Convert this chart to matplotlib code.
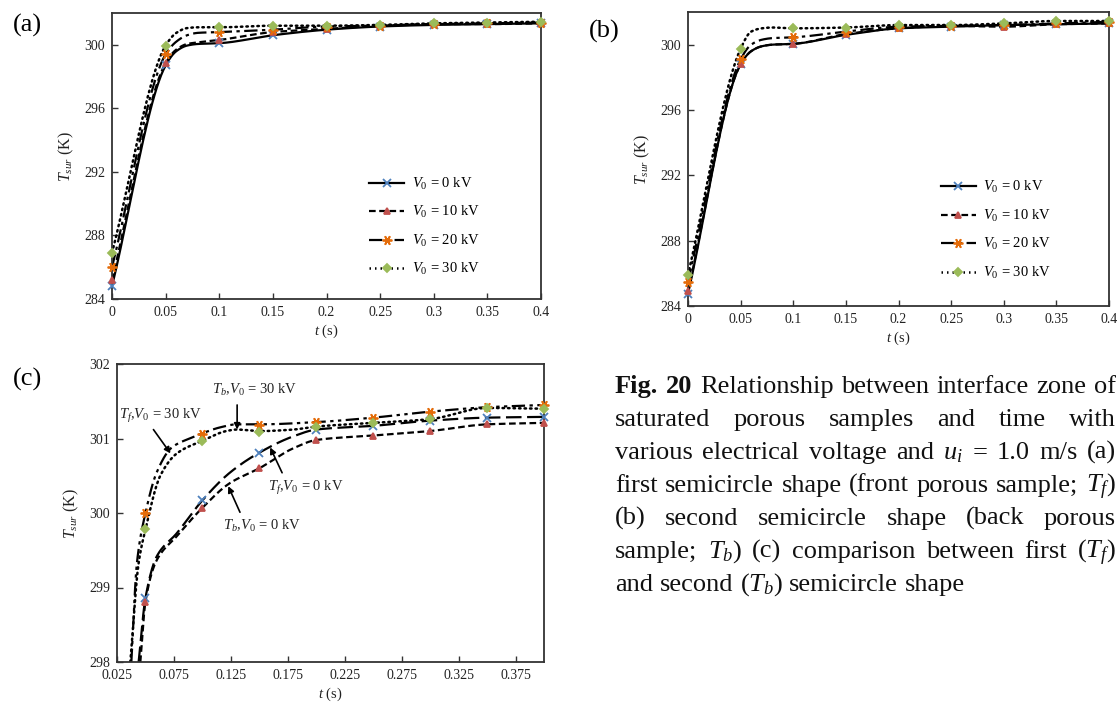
import numpy as np
import matplotlib
matplotlib.use("Agg")
import matplotlib.pyplot as plt

plt.rcParams['font.family'] = 'Liberation Serif'
plt.rcParams['mathtext.fontset'] = 'custom'
plt.rcParams['mathtext.rm'] = 'Liberation Serif'
plt.rcParams['mathtext.it'] = 'Liberation Serif:italic'
plt.rcParams['mathtext.bf'] = 'Liberation Serif:bold'

# time of the marked points (s)
t = [0, 0.05, 0.1, 0.15, 0.2, 0.25, 0.3, 0.35, 0.4]
# extra points read along the knee of the curves in (a) and (b)
t_knee = [0.06, 0.07, 0.08]

# (a) front porous sample, T_sur (K)
a_v0 = [284.8, 298.7, 300.1, 300.6, 300.95, 301.15, 301.25, 301.3, 301.35]
a_v10 = [285.2, 298.85, 300.3, 300.8, 301.0, 301.2, 301.3, 301.3, 301.35]
a_v20 = [286.0, 299.4, 300.8, 300.95, 301.15, 301.2, 301.3, 301.35, 301.4]
a_v30 = [286.9, 299.95, 301.1, 301.2, 301.2, 301.25, 301.35, 301.4, 301.45]
a_knee = [[299.6, 299.95, 300.05], [299.7, 300.05, 300.15],
          [300.2, 300.6, 300.75], [300.75, 301.05, 301.1]]

# (b) back porous sample
b_v0 = [284.75, 298.8, 300.05, 300.6, 301.0, 301.1, 301.2, 301.25, 301.3]
b_v10 = [284.9, 298.8, 300.05, 300.65, 301.0, 301.15, 301.1, 301.25, 301.3]
b_v20 = [285.5, 299.1, 300.45, 300.8, 301.1, 301.15, 301.2, 301.3, 301.4]
b_v30 = [285.9, 299.75, 301.0, 301.05, 301.2, 301.2, 301.3, 301.45, 301.45]
b_knee = [[299.6, 299.9, 300.0], [299.6, 299.9, 300.0],
          [300.0, 300.3, 300.4], [300.8, 301.0, 301.05]]

# (c) comparison: marked points from 0.05 s on
t_c = [0.05, 0.1, 0.15, 0.2, 0.25, 0.3, 0.35, 0.4]
c_tf0 = [298.86, 300.17, 300.81, 301.12, 301.17, 301.24, 301.28, 301.29]
c_tb0 = [298.81, 300.07, 300.6, 300.98, 301.04, 301.1, 301.19, 301.21]
c_tf30 = [300.0, 301.06, 301.18, 301.22, 301.28, 301.36, 301.42, 301.45]
c_tb30 = [299.78, 300.97, 301.09, 301.16, 301.21, 301.26, 301.41, 301.4]
# (c) curves
c_tf0_x = [0.044, 0.05, 0.06, 0.0776, 0.1, 0.124, 0.15, 0.18, 0.2, 0.25, 0.3, 0.35, 0.4]
c_tf0_y = [298.0, 298.86, 299.42, 299.73, 300.17, 300.54, 300.81, 301.03, 301.12, 301.17, 301.24, 301.28, 301.29]
c_tb0_x = [0.0455, 0.05, 0.06, 0.0776, 0.1, 0.124, 0.15, 0.18, 0.2, 0.25, 0.3, 0.35, 0.4]
c_tb0_y = [298.0, 298.81, 299.37, 299.69, 300.07, 300.4, 300.6, 300.87, 300.98, 301.04, 301.1, 301.19, 301.21]
c_tf30_x = [0.0376, 0.0425, 0.05, 0.06, 0.0732, 0.092, 0.1, 0.1157, 0.13, 0.15, 0.2, 0.25, 0.3, 0.35, 0.4]
c_tf30_y = [298.0, 299.33, 300.0, 300.55, 300.88, 301.02, 301.07, 301.15, 301.19, 301.19, 301.22, 301.28, 301.36, 301.42, 301.45]
c_tb30_x = [0.0367, 0.044, 0.05, 0.063, 0.0776, 0.1, 0.121, 0.13, 0.151, 0.18, 0.2, 0.25, 0.3, 0.35, 0.4]
c_tb30_y = [298.0, 299.33, 299.78, 300.5, 300.8, 300.97, 301.1, 301.12, 301.1, 301.12, 301.16, 301.21, 301.26, 301.41, 301.4]

legend_labels = [r'$V_0$ = 0 kV', r'$V_0$ = 10 kV', r'$V_0$ = 20 kV', r'$V_0$ = 30 kV']
ab_xticklabels = ['0', '0.05', '0.1', '0.15', '0.2', '0.25', '0.3', '0.35', '0.4']
ab_yticks = [284, 288, 292, 296, 300]
c_xticks = [0.025, 0.075, 0.125, 0.175, 0.225, 0.275, 0.325, 0.375]
c_yticks = [298, 299, 300, 301, 302]

blue, red, orange, green = '#4F81BD', '#C0504D', '#E46C0A', '#9BBB59'
asterisk = (6, 2, 90)

styles = {
    'solid': dict(ls='-', marker='x', mc=blue, ms=6),
    'longdash': dict(ls=(0, (7, 2.5)), marker='x', mc=blue, ms=6),
    'dash': dict(ls=(0, (3, 1.6)), marker='^', mc=red, ms=4),
    'dashdot': dict(ls=(0, (6, 2, 1.5, 2)), marker=asterisk, mc=orange, ms=7),
    'dashdotdot': dict(ls=(0, (6, 2, 1.5, 2, 1.5, 2)), marker=asterisk, mc=orange, ms=7),
    'dot': dict(ls=(0, (0.6, 1.6)), marker='D', mc=green, ms=4.5),
}


def monotone(x, y, n=25):
    # monotone cubic drawing of the line through the read points (no overshoot)
    x = np.asarray(x, float)
    y = np.asarray(y, float)
    h = np.diff(x)
    d = np.diff(y) / h
    m = np.zeros_like(y)
    m[0], m[-1] = d[0], d[-1]
    for k in range(1, len(x) - 1):
        if d[k - 1] * d[k] > 0:
            w1, w2 = 2 * h[k] + h[k - 1], h[k] + 2 * h[k - 1]
            m[k] = (w1 + w2) / (w1 / d[k - 1] + w2 / d[k])
    s = np.linspace(0, 1, n)
    h00, h10 = 2 * s ** 3 - 3 * s ** 2 + 1, s ** 3 - 2 * s ** 2 + s
    h01, h11 = -2 * s ** 3 + 3 * s ** 2, s ** 3 - s ** 2
    xs, ys = [], []
    for k in range(len(x) - 1):
        xs.append(x[k] + s * h[k])
        ys.append(h00 * y[k] + h10 * h[k] * m[k] + h01 * y[k + 1] + h11 * h[k] * m[k + 1])
    return np.concatenate(xs), np.concatenate(ys)


def draw(ax, lx, ly, mx, my, kind, label=None):
    st = styles[kind]
    lw = 1.8 if kind == 'dot' else 1.6
    sx, sy = monotone(lx, ly)
    ax.plot(sx, sy, color='black', lw=lw, ls=st['ls'],
            dash_capstyle='round' if kind == 'dot' else 'butt')
    ax.plot(mx, my, ls='none', marker=st['marker'], color=st['mc'],
            mec=st['mc'], mew=1.3, ms=st['ms'], clip_on=False, zorder=3)
    ax.plot([], [], color='black', lw=lw, ls=st['ls'], marker=st['marker'],
            mfc=st['mc'], mec=st['mc'], mew=1.3, ms=st['ms'], label=label)


def style_axes(ax):
    for sp in ax.spines.values():
        sp.set_color('#333333')
        sp.set_linewidth(1.3)
    ax.tick_params(direction='in', length=4, width=1, colors='#333333',
                   labelsize=10, labelcolor='#222222', pad=5)
    ax.set_xlabel(r'$t$ (s)', fontsize=10.5, color='#222222', labelpad=3)
    ax.set_ylabel(r'$T_{sur}$ (K)', fontsize=11.5, color='#222222', labelpad=6)


W, H = 1120, 711
fig = plt.figure(figsize=(W / 100, H / 100), dpi=100)


def px_axes(l, t_, r, b):
    return fig.add_axes([l / W, 1 - b / H, (r - l) / W, (b - t_) / H])


kinds = ['solid', 'dash', 'dashdot', 'dot']
for box, series, knees, leg_y in [((112, 13, 541, 299), (a_v0, a_v10, a_v20, a_v30), a_knee, 0.2535),
                                  ((688, 12, 1109, 306), (b_v0, b_v10, b_v20, b_v30), b_knee, 0.2585)]:
    ax = px_axes(*box)
    for y, kn, kind, lab in zip(series, knees, kinds, legend_labels):
        pts = sorted(zip(t + t_knee, y + kn))
        draw(ax, [p[0] for p in pts], [p[1] for p in pts], t, y, kind, lab)
    ax.set_xlim(0, 0.4)
    ax.set_ylim(284, 302)
    ax.set_xticks(t)
    ax.set_xticklabels(ab_xticklabels)
    ax.set_yticks(ab_yticks)
    style_axes(ax)
    ax.legend(loc='center left', bbox_to_anchor=(0.6, leg_y), frameon=False,
              fontsize=10.5, labelspacing=0.85, handlelength=2.4,
              handletextpad=0.5, borderpad=0, borderaxespad=0, numpoints=1)

axc = px_axes(117, 364, 544, 662)
draw(axc, c_tf0_x, c_tf0_y, t_c, c_tf0, 'longdash')
draw(axc, c_tb0_x, c_tb0_y, t_c, c_tb0, 'dash')
draw(axc, c_tf30_x, c_tf30_y, t_c, c_tf30, 'dashdotdot')
draw(axc, c_tb30_x, c_tb30_y, t_c, c_tb30, 'dot')
axc.set_xlim(0.025, 0.4)
axc.set_ylim(298, 302)
axc.set_xticks(c_xticks)
axc.set_xticklabels(['%.3f' % v for v in c_xticks])
axc.set_yticks(c_yticks)
style_axes(axc)

arrow = dict(arrowstyle='-|>', color='black', lw=1.2, mutation_scale=9,
             shrinkA=0, shrinkB=0)
notes = [(r'$T_b$,$V_0$ = 30 kV', (0.146, 301.65), (0.1305, 301.45), (0.1305, 301.12)),
         (r'$T_f$,$V_0$ = 30 kV', (0.063, 301.30), (0.057, 301.12), (0.072, 300.8)),
         (r'$T_f$,$V_0$ = 0 kV', (0.191, 300.34), (0.170, 300.54), (0.1595, 300.88)),
         (r'$T_b$,$V_0$ = 0 kV', (0.1525, 299.83), (0.133, 300.01), (0.1227, 300.36))]
for txt, pos, tail, head in notes:
    axc.text(pos[0], pos[1], txt, fontsize=10.5, ha='center', va='center', color='#222222')
    axc.annotate('', xy=head, xytext=tail, arrowprops=arrow)

for lab, x, y in [('(a)', 27, 25), ('(b)', 604, 31), ('(c)', 28, 379)]:
    fig.text(x / W, 1 - y / H, lab, fontsize=19, ha='center', va='center')

# caption, justified
caption_lines = [
    [('Fig.', 'bold'), ('20', 'bold'), 'Relationship', 'between', 'interface', 'zone', 'of'],
    ['saturated', 'porous', 'samples', 'and', 'time', 'with'],
    ['various', 'electrical', 'voltage', 'and', r'$u_i$', '=', '1.0', 'm/s', '(a)'],
    ['first', 'semicircle', 'shape', '(front', 'porous', 'sample;', r'$T_f$)'],
    ['(b)', 'second', 'semicircle', 'shape', '(back', 'porous'],
    ['sample;', r'$T_b$)', '(c)', 'comparison', 'between', 'first', r'($T_f$)'],
    ['and', 'second', r'($T_b$)', 'semicircle', 'shape'],
]
cap_x0, cap_x1 = 615, 1116
cap_y0, cap_dy = 393, 33
cap_size = 19
renderer = fig.canvas.get_renderer()
for i, words in enumerate(caption_lines):
    yb = 1 - (cap_y0 + i * cap_dy) / H
    items = []
    for w in words:
        txt, weight = (w if isinstance(w, tuple) else (w, 'normal'))
        tt = fig.text(0, yb, txt, fontsize=cap_size, fontweight=weight, va='baseline',
                      color='#111111')
        items.append((tt, tt.get_window_extent(renderer).width))
    total = sum(wd for _, wd in items)
    if i < len(caption_lines) - 1:
        gap = (cap_x1 - cap_x0 - total) / (len(items) - 1)
    else:
        gap = cap_size * 1.389 * 0.25
    x = cap_x0
    for tt, wd in items:
        tt.set_x(x / W)
        x += wd + gap

fig.savefig('out.png', dpi=100)
